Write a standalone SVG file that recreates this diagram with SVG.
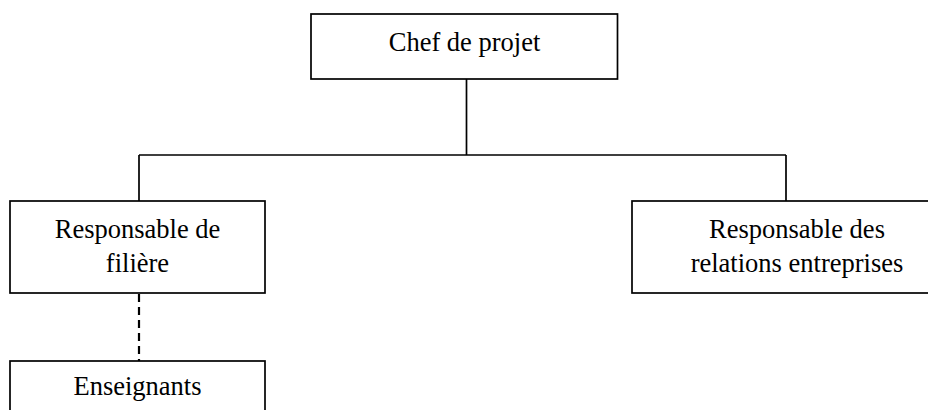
<svg xmlns="http://www.w3.org/2000/svg" width="928" height="410" viewBox="0 0 928 410">
<style>
.box{fill:#fff;stroke:#000;stroke-width:1.7}
.ln{fill:none;stroke:#000;stroke-width:1.7}
.dash{fill:none;stroke:#000;stroke-width:2.2;stroke-dasharray:8,5}
text{font-family:"Liberation Serif","DejaVu Serif",serif;font-size:26.5px;fill:#000;text-anchor:middle}
</style>
<rect width="928" height="410" fill="#fff"/>
<g id="connectors">
<path class="ln" d="M466.5,79 V155 M139,155 H786 M139,155 V201 M786,155 V201"/>
<path class="dash" d="M139,294 V361"/>
</g>
<g id="chef">
<rect class="box" x="311" y="14" width="306.5" height="65"/>
<text x="464.5" y="51">Chef de projet</text>
</g>
<g id="filiere">
<rect class="box" x="10" y="201" width="255" height="92"/>
<text x="137.5" y="238">Responsable de</text>
<text x="137.5" y="272">filière</text>
</g>
<g id="relations">
<rect class="box" x="632" y="201" width="330" height="92"/>
<text x="797" y="238">Responsable des</text>
<text x="797" y="272">relations entreprises</text>
</g>
<g id="enseignants">
<rect class="box" x="10" y="361" width="255" height="80"/>
<text x="137.5" y="395">Enseignants</text>
</g>
</svg>
